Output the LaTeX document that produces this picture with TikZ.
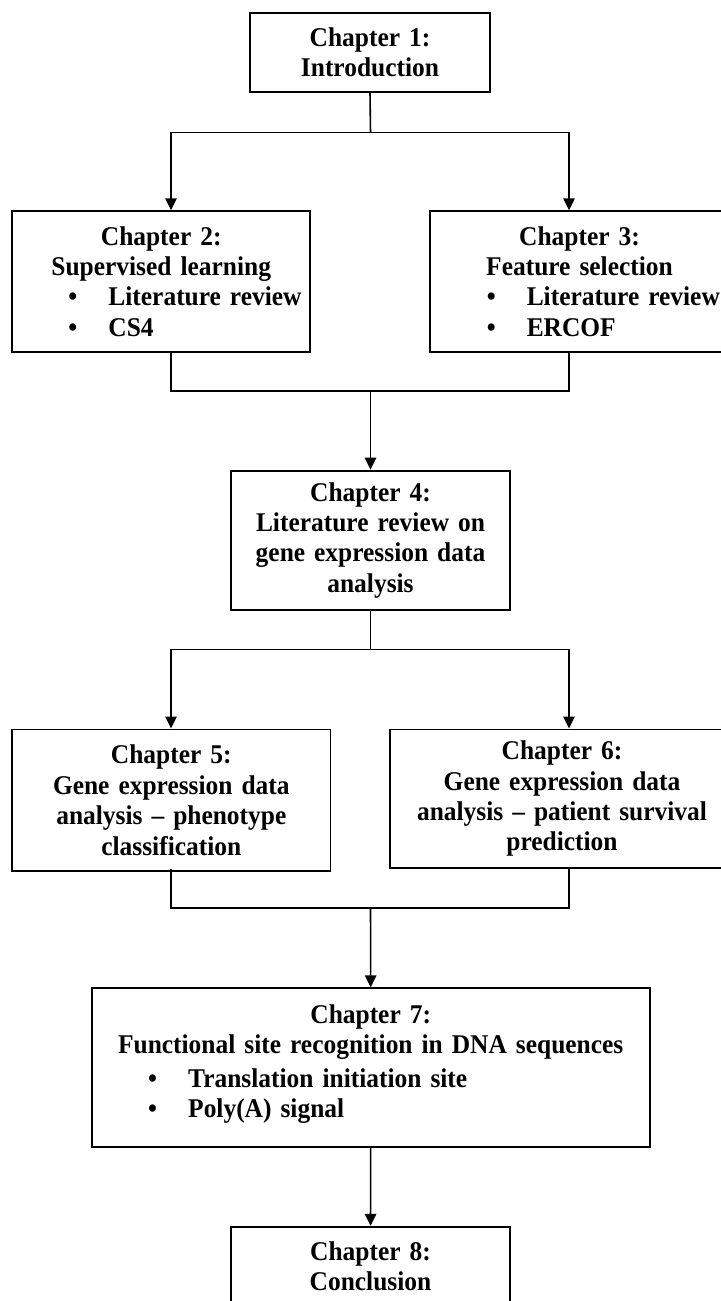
\documentclass[tikz,border=0pt]{standalone}
\usepackage{fontspec}
\setmainfont{Liberation Serif}[FakeStretch=0.94, WordSpace=0.8]
\usetikzlibrary{arrows.meta}
\tikzset{
  chapbox/.style={draw, line width=1.1pt, inner sep=0pt, align=center,
    font=\fontsize{15.4}{17.3}\selectfont\bfseries},
  arr/.style={-{Triangle[length=2.4mm,width=2.3mm]}},
  link/.style={line width=0.9pt}
}
% bullet line inside a box
\newcommand{\itm}[1]{\makebox[\linewidth][l]{\hspace*{1.13cm}\makebox[0.8cm][l]{\textbullet}#1}}
\begin{document}
\begin{tikzpicture}[x=0.02cm, y=-0.02cm]
	\useasboundingbox (0,0) rectangle (720,1301);
	\coordinate (lanel) at (171,0);
	\coordinate (laner) at (569,0);
	\coordinate (forki) at (370.5,132.7);
	\coordinate (mergei) at (370.5,391);
	\coordinate (forkii) at (370.5,649.3);
	\coordinate (mergeii) at (370.5,908);

	\node[chapbox, text width=4.8cm, minimum height=1.59cm] (chapi) at (370,52.5) {Chapter 1:\\ Introduction\\[-2pt]};
	\node[chapbox, text width=5.97cm, minimum height=2.81cm] (chapii) at (161.2,281.5)
		{Chapter 2:\\ Supervised learning\\ \itm{Literature review}\\ \itm{CS4}\\[-3pt]};
	\node[chapbox, text width=5.97cm, minimum height=2.81cm] (chapiii) at (579.5,281.5)
		{Chapter 3:\\ Feature selection\\ \itm{Literature review}\\ \itm{ERCOF}\\[-3pt]};
	\node[chapbox, text width=5.58cm, minimum height=2.79cm] (chapiv) at (370.5,540.3)
		{Chapter 4:\\ Literature review on\\ gene expression data\\ analysis};
	\node[chapbox, text width=6.37cm, minimum height=2.83cm] (chapv) at (171.3,800.2)
		{Chapter 5:\\ Gene expression data\\ analysis – phenotype\\ classification};
	\node[chapbox, text width=6.88cm, minimum height=2.77cm] (chapvi) at (562,798.7)
		{Chapter 6:\\ Gene expression data\\ analysis – patient survival\\ prediction\\[-4pt]};
	\node[chapbox, text width=11.16cm, minimum height=3.17cm] (chapvii) at (370.7,1067.5)
		{Chapter 7:\\ Functional site recognition in DNA sequences\\[2pt] \itm{Translation initiation site}\\ \itm{Poly(A) signal}\\[-10pt]\mbox{}};
	\node[chapbox, text width=5.58cm, minimum height=1.59cm] (chapviii) at (370.5,1266.5) {Chapter 8:\\ Conclusion};

	\draw[link] (chapi.south) -- (forki);
	\draw[link, arr] (forki) -| (lanel |- chapii.north);
	\draw[link, arr] (forki) -| (laner |- chapiii.north);
	\draw[link] (lanel |- chapii.south) |- (mergei) -| (laner |- chapiii.south);
	\draw[link, arr] (mergei) -- (chapiv.north);

	\draw[link] (chapiv.south) -- (forkii);
	\draw[link, arr] (forkii) -| (lanel |- chapv.north);
	\draw[link, arr] (forkii) -| (laner |- chapvi.north);
	\draw[link] (lanel |- chapvi.south) |- (mergeii) -| (laner |- chapvi.south);
	\draw[link, arr] (mergeii) -- (chapvii.north);
	\draw[link, arr] (chapvii.south) -- (chapviii.north);
\end{tikzpicture}
\end{document}
